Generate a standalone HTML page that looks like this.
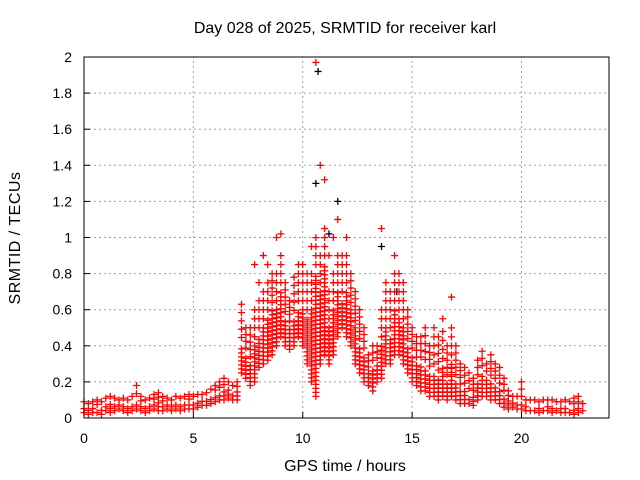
<!DOCTYPE html>
<html><head><meta charset="utf-8"><style>
body{margin:0;background:#fff}
svg{display:block;font-family:"Liberation Sans",sans-serif;font-size:14px}
</style></head><body>
<svg id="chart" width="640" height="480" xmlns="http://www.w3.org/2000/svg">
<text x="345" y="33" text-anchor="middle" font-size="16">Day 028 of 2025, SRMTID for receiver karl</text>
<text transform="translate(20,238) rotate(-90)" text-anchor="middle" font-size="16" letter-spacing="0.5">SRMTID / TECUs</text>
<text x="345" y="471" text-anchor="middle" font-size="16">GPS time / hours</text>
<g id="grid"></g><g id="marks"></g>
<rect x="84" y="57" width="525" height="361" fill="none" stroke="#000" stroke-width="1"/>
</svg>
<script>
const hours=[0,0.2,0.4,0.6,0.8,1,1.2,1.4,1.6,1.8,2,2.2,2.4,2.6,2.8,3,3.2,3.4,3.6,3.8,4,4.2,4.4,4.6,4.8,5,5.2,5.4,5.6,5.8,6,6.2,6.4,6.6,6.8,7,7.2,7.4,7.6,7.8,8,8.2,8.4,8.6,8.8,9,9.2,9.4,9.6,9.8,10,10.2,10.4,10.6,10.8,11,11.2,11.4,11.6,11.8,12,12.2,12.4,12.6,12.8,13,13.2,13.4,13.6,13.8,14,14.2,14.4,14.6,14.8,15,15.2,15.4,15.6,15.8,16,16.2,16.4,16.6,16.8,17,17.2,17.4,17.6,17.8,18,18.2,18.4,18.6,18.8,19,19.2,19.4,19.6,19.8,20,20.2,20.4,20.6,20.8,21,21.2,21.4,21.6,21.8,22,22.2,22.4,22.6,22.8];
const lo=[0.03,0.02,0.03,0.03,0.02,0.04,0.03,0.04,0.05,0.04,0.03,0.04,0.05,0.04,0.03,0.04,0.05,0.04,0.04,0.05,0.04,0.05,0.04,0.05,0.05,
0.05,0.06,0.07,0.07,0.08,0.09,0.1,0.1,0.11,0.1,
0.1,0.25,0.22,0.18,0.2,0.28,0.3,0.32,0.35,0.4,0.45,0.4,0.38,0.4,0.45,
0.4,0.3,0.2,0.12,0.3,0.35,0.3,0.35,0.45,0.5,0.45,0.4,0.3,0.25,0.2,
0.18,0.15,0.2,0.22,0.3,0.3,0.35,0.35,0.3,0.25,0.2,0.18,0.15,0.15,0.12,
0.12,0.1,0.12,0.1,0.12,0.1,0.08,0.08,0.08,0.07,0.1,0.12,0.12,0.1,0.1,
0.08,0.06,0.05,0.06,0.05,0.05,0.04,0.04,0.04,0.03,0.04,0.04,0.03,0.04,0.03,
0.03,0.03,0.02,0.03,0.04];
const mid=[0.06,0.05,0.06,0.05,0.06,0.07,0.08,0.07,0.08,0.07,0.06,0.08,0.09,0.07,0.06,0.07,0.08,0.09,0.07,0.08,0.07,0.08,0.07,0.08,0.08,
0.08,0.09,0.1,0.1,0.12,0.13,0.14,0.15,0.16,0.14,
0.15,0.4,0.35,0.3,0.4,0.45,0.5,0.55,0.6,0.6,0.7,0.55,0.5,0.55,0.6,
0.6,0.55,0.6,0.8,0.7,0.85,0.5,0.6,0.7,0.65,0.7,0.6,0.5,0.4,0.35,
0.25,0.28,0.3,0.4,0.5,0.45,0.6,0.55,0.5,0.4,0.35,0.3,0.3,0.28,0.25,
0.25,0.22,0.28,0.2,0.3,0.2,0.15,0.15,0.12,0.12,0.2,0.25,0.22,0.2,0.18,
0.15,0.12,0.1,0.09,0.08,0.08,0.07,0.06,0.06,0.06,0.06,0.07,0.06,0.06,0.06,
0.06,0.05,0.05,0.06,0.05];
const hi=[0.09,0.08,0.09,0.1,0.09,0.11,0.12,0.11,0.1,0.11,0.1,0.12,0.18,0.12,0.1,0.11,0.13,0.14,0.12,0.11,0.1,0.12,0.11,0.12,0.13,
0.12,0.13,0.13,0.14,0.16,0.18,0.2,0.22,0.2,0.18,
0.2,0.63,0.5,0.5,0.85,0.75,0.9,0.85,0.8,1.0,1.02,0.75,0.65,0.78,0.85,
0.85,0.8,0.95,1.97,1.4,1.32,0.9,1.0,1.1,0.9,1.0,0.8,0.7,0.6,0.5,
0.35,0.4,0.4,1.05,0.75,0.7,0.9,0.8,0.75,0.6,0.5,0.45,0.45,0.5,0.4,
0.5,0.45,0.55,0.4,0.67,0.4,0.3,0.28,0.25,0.22,0.32,0.37,0.3,0.35,0.3,
0.28,0.22,0.15,0.12,0.12,0.2,0.1,0.1,0.1,0.09,0.1,0.1,0.1,0.09,0.09,
0.1,0.09,0.11,0.12,0.08];
const blackHours=[10.6,10.7,11.2,11.6,13.6,14.3];
const blackVals=[1.3,1.92,1.02,1.2,0.95,0.7];
const xTicks=[0,5,10,15,20];
const yTicks=[0,0.2,0.4,0.6,0.8,1,1.2,1.4,1.6,1.8,2];
const yTickLabels=["0","0.2","0.4","0.6","0.8","1","1.2","1.4","1.6","1.8","2"];
const X0=84,X1=609,Y0=418,Y1=57;
const xs=v=>X0+v/24*(X1-X0), ys=v=>Y0-v/2*(Y0-Y1);
const NS="http://www.w3.org/2000/svg";
const grid=document.getElementById('grid'), marks=document.getElementById('marks');
function mk(t,a,p){const e=document.createElementNS(NS,t);for(const k in a)e.setAttribute(k,a[k]);p.appendChild(e);return e;}
xTicks.forEach(v=>{const x=xs(v);
 if(v>0){const g=mk('line',{x1:x,x2:x,y1:Y0,y2:Y1,stroke:'#a0a0a0','stroke-dasharray':'2,3'},grid);
 
 }
 const t=mk('line',{x1:x,x2:x,y1:Y0,y2:Y0-6,stroke:'#000'},grid);
 
 
 const l=mk('text',{x:x,y:Y0+25,'text-anchor':'middle'},grid);l.textContent=v;
 
 
});
yTicks.forEach((v,i)=>{const y=ys(v);
 if(v>0&&v<2){const g=mk('line',{x1:X0,x2:X1,y1:y,y2:y,stroke:'#a0a0a0','stroke-dasharray':'2,3'},grid);
 
 }
 const t=mk('line',{x1:X0,x2:X0+6,y1:y,y2:y,stroke:'#000'},grid);
 
 
 const l=mk('text',{x:X0-12,y:y+5,'text-anchor':'end'},grid);l.textContent=yTickLabels[i];
 
 
});
function plus(x,y,c,name){const p=mk('path',{d:`M${x-3.5},${y}h7M${x},${y-3.5}v7`,stroke:c,'stroke-width':1.3,fill:'none'},marks);
 
 }
blackHours.forEach((h,i)=>plus(xs(h),ys(blackVals[i]),'#000','black-point'));
hours.forEach((h,i)=>{
 const x=xs(h), yl=ys(lo[i]), yh=ys(hi[i]), ym=ys(mid[i]);
 for(let y=yl;y>ym;y-=4) plus(x,y,'#f00','red-point');
 const span=ym-yh, n=Math.min(4,Math.floor(span/9));
 for(let k=0;k<n;k++) plus(x,ym-(k+1)*Math.min(9,span/(n+1)),'#f00','red-point');
 plus(x,yh,'#f00','red-point');
});
</script>
</body></html>
